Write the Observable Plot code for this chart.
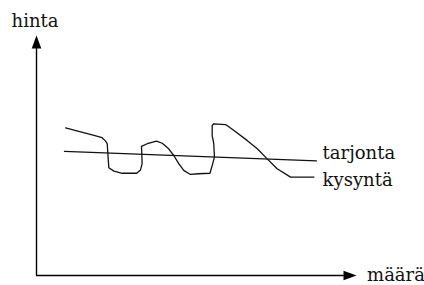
<!DOCTYPE html>
<html>
<head>
<meta charset="utf-8">
<script src="https://cdn.jsdelivr.net/npm/d3@7"></script>
<script src="https://cdn.jsdelivr.net/npm/@observablehq/plot@0.6"></script>
<style>
  html, body { margin: 0; padding: 0; background: #fff; }
  #chart svg { display: block; }
</style>
</head>
<body>
<div id="chart"></div>
<script>
// Supply (tarjonta): straight, slightly falling line
const supplyX = [8.75, 87.5];
const supplyY = [51.7, 47.8];

// Demand (kysyntä): hand-drawn wavy line
const demandX = [9.1, 13.2, 17.4, 20.5, 21.6, 22.1, 22.3, 22.6, 24.2, 26.8, 31.3, 32.5, 33.0, 32.9, 32.8, 34.6, 37.5, 39.3, 41.3, 42.9, 44.5, 46.0, 48.1, 50.7, 54.2, 54.9, 55.6, 55.4, 54.9, 54.9, 55.4, 59.1, 61.7, 65.8, 69.0, 72.1, 75.2, 79.4, 86.7];
const demandY = [61.5, 60.1, 58.6, 57.4, 56.0, 54.9, 50.7, 44.9, 43.5, 42.6, 42.6, 44.0, 46.5, 51.0, 53.8, 54.9, 56.0, 55.1, 52.8, 50.0, 46.5, 43.8, 42.1, 42.4, 42.6, 45.8, 49.3, 54.9, 58.3, 62.5, 63.2, 62.9, 60.4, 56.3, 52.8, 48.6, 44.5, 41.0, 41.0];

// Labels
const seriesLabels = ["tarjonta", "kysyntä"];
const seriesLabelX = [89.4, 89.4];
const seriesLabelY = [51.0, 39.9];
const axisLabels = ["hinta", "määrä"];
const axisLabelX = [-7.8, 103.3];
const axisLabelY = [105.9, 0.3];

const supply = supplyX.map((x, i) => ({x, y: supplyY[i]}));
const demand = demandX.map((x, i) => ({x, y: demandY[i]}));
const seriesText = seriesLabels.map((t, i) => ({t, x: seriesLabelX[i], y: seriesLabelY[i]}));
const axisText = axisLabels.map((t, i) => ({t, x: axisLabelX[i], y: axisLabelY[i]}));

// filled arrowhead, tip at origin, body pointing down
const arrowHead = {
  draw(context) {
    context.moveTo(0, 0);
    context.lineTo(4.8, 13);
    context.lineTo(-4.8, 13);
    context.closePath();
  }
};

const chart = Plot.plot({
  width: 424,
  height: 285,
  marginLeft: 36,
  marginRight: 68,
  marginTop: 35,
  marginBottom: 10,
  x: {domain: [0, 100], axis: null},
  y: {domain: [0, 100], axis: null},
  style: {fontFamily: "'DejaVu Serif', serif", fontSize: "18px", background: "white", overflow: "visible"},
  marks: [
    // axes
    Plot.ruleY([0], {x1: 0, x2: 97, stroke: "black", strokeWidth: 1.4}),
    Plot.ruleX([0], {y1: 0, y2: 96, stroke: "black", strokeWidth: 1.4}),
    Plot.dot([{x: 0, y: 100}], {x: "x", y: "y", symbol: arrowHead, fill: "black", stroke: "none", r: 5}),
    Plot.dot([{x: 100, y: 0}], {x: "x", y: "y", symbol: arrowHead, fill: "black", stroke: "none", r: 5, rotate: 90}),
    // series
    Plot.line(supply, {x: "x", y: "y", stroke: "#111", strokeWidth: 1.3}),
    Plot.line(demand, {x: "x", y: "y", stroke: "#111", strokeWidth: 1.3}),
    // labels
    Plot.text(seriesText, {x: "x", y: "y", text: "t", textAnchor: "start", fill: "#111", fontSize: 18}),
    Plot.text(axisText, {x: "x", y: "y", text: "t", textAnchor: "start", fill: "#111", fontSize: 18})
  ]
});
document.getElementById("chart").appendChild(chart);
</script>
</body>
</html>
